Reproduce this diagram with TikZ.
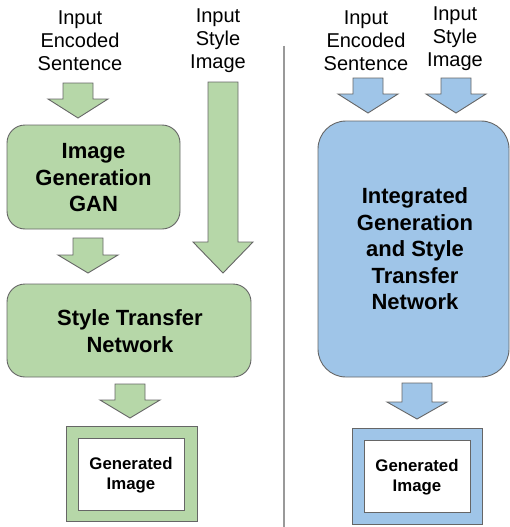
\documentclass[tikz,border=0pt]{standalone}
\usepackage{fontspec}
\setmainfont{Liberation Sans}
\definecolor{gfill}{HTML}{B6D7A8}
\definecolor{bfill}{HTML}{9FC5E8}
\definecolor{edge}{HTML}{666666}
\definecolor{divider}{HTML}{999999}
% block arrow pointing down: fill, centre x, top y, head start y, tip y
\newcommand{\blockarrow}[5]{%
  \path[draw=edge,line width=0.9pt,fill=#1,line join=miter]
    (#2-15,#3) -- (#2+15,#3) -- (#2+15,#4) -- (#2+30,#4) --
    (#2,#5) -- (#2-30,#4) -- (#2-15,#4) -- cycle;}
\tikzset{
  inputlbl/.style={align=center,inner sep=0pt,font=\fontsize{20}{23}\selectfont},
  boxlbl/.style={align=center,inner sep=0pt,font=\fontsize{22}{26.5}\selectfont\bfseries},
  outlbl/.style={align=center,inner sep=0pt,font=\fontsize{16.8}{20}\selectfont\bfseries},
  netbox/.style={draw=edge,line width=0.9pt},
}
\begin{document}
\begin{tikzpicture}[x=1pt,y=-1pt]
\useasboundingbox (0,0) rectangle (510,527);

% ---------- two-stage pipeline ----------
\node[inputlbl] (inSentL) at (80,41) {Input\\Encoded\\Sentence};
\node[inputlbl] (inStyleL) at (218,41) {Input\\Style\\Image};

\blockarrow{gfill}{78}{83}{99}{118}
\blockarrow{gfill}{223}{82}{242}{273}

\draw[netbox,fill=gfill,rounded corners=18pt] (7,125) rectangle (180,229);
\node[boxlbl] (gan) at (93.5,178) {Image\\Generation\\GAN};

\blockarrow{gfill}{88}{238}{255}{273}

\draw[netbox,fill=gfill,rounded corners=18pt] (7,284) rectangle (251,377);
\node[boxlbl] (stn) at (130,331) {Style Transfer\\Network};

\blockarrow{gfill}{130}{384}{400}{418}

\draw[netbox,fill=gfill] (66,426) rectangle (197,521);
\draw[netbox,fill=white] (78,438) rectangle (184,510);
\node[outlbl] (outL) at (131,475) {Generated\\Image};

% ---------- separator ----------
\draw[divider,line width=1.2pt] (284,46) -- (284,527);

% ---------- integrated network ----------
\node[inputlbl] (inSentR) at (366,41) {Input\\Encoded\\Sentence};
\node[inputlbl] (inStyleR) at (455,39) {Input\\Style\\Image};

\blockarrow{bfill}{368}{78}{94}{113}
\blockarrow{bfill}{456}{78}{94}{113}

\draw[netbox,fill=bfill,rounded corners=28pt] (318,121) rectangle (509,377);
\node[boxlbl] (ign) at (415,249) {Integrated\\Generation\\and Style\\Transfer\\Network};

\blockarrow{bfill}{417}{383}{402}{419}

\draw[netbox,fill=bfill] (352,428) rectangle (482,524);
\draw[netbox,fill=white] (364,440) rectangle (470,512);
\node[outlbl] (outR) at (417,477) {Generated\\Image};
\end{tikzpicture}
\end{document}
